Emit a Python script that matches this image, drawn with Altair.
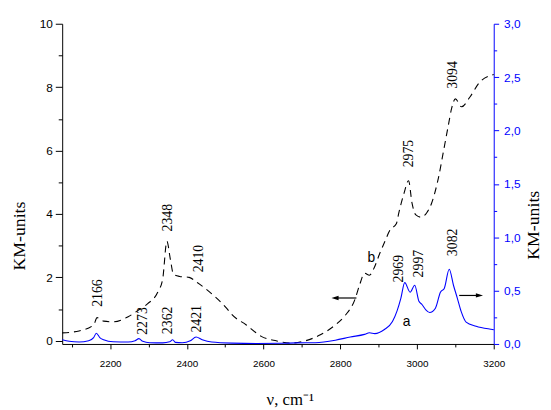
import altair as alt
import pandas as pd

# ---- data ----
# curve b (dashed, left axis)
b_nu = [2075, 2119, 2157, 2166, 2183, 2208, 2247, 2273, 2298, 2324,
        2337, 2348, 2357, 2365, 2381, 2406, 2427, 2465, 2504, 2517,
        2555, 2594, 2633, 2671, 2709, 2748, 2787, 2812, 2838, 2851,
        2863, 2876, 2889, 2902, 2915, 2930, 2946, 2953, 2966, 2978,
        2987, 2997, 3010, 3025, 3038, 3056, 3069, 3082, 3090, 3100,
        3116, 3138, 3163, 3192, 3200]
b_km = [0.25, 0.31, 0.5, 0.73, 0.62, 0.6, 0.76, 0.96, 1.17, 1.53,
        1.95, 3.14, 2.57, 2.1, 2.03, 2.0, 1.84, 1.48, 1.02, 0.83,
        0.5, 0.14, 0.0, -0.07, 0.0, 0.19, 0.5, 0.79, 1.3, 1.79,
        2.13, 2.07, 2.32, 2.73, 3.1, 3.5, 3.69, 4.06, 4.65, 5.05,
        4.34, 3.97, 3.9, 4.03, 4.34, 5.15, 5.98, 6.82, 7.32, 7.63,
        7.38, 7.69, 8.15, 8.37, 8.4]

# curve a (solid blue, right axis)
a_nu = [2075, 2093, 2119, 2144, 2157, 2164, 2173, 2183, 2208, 2247,
        2265, 2275, 2285, 2303, 2337, 2355, 2363, 2370, 2388, 2409,
        2424, 2440, 2465, 2517, 2581, 2645, 2684, 2735, 2787, 2826,
        2863, 2876, 2890, 2915, 2936, 2948, 2958, 2968, 2982, 2994,
        3005, 3013, 3023, 3033, 3048, 3061, 3071, 3084, 3095, 3105,
        3115, 3128, 3154, 3197, 3200]
a_km = [0.04, 0.025, 0.018, 0.03, 0.06, 0.1, 0.06, 0.04, 0.02, 0.018,
        0.03, 0.05, 0.025, 0.012, 0.01, 0.02, 0.04, 0.015, 0.012, 0.03,
        0.065, 0.04, 0.018, 0.008, 0.005, 0.006, 0.01, 0.012, 0.035, 0.065,
        0.09, 0.105, 0.097, 0.135, 0.21, 0.31, 0.43, 0.575, 0.485, 0.55,
        0.40, 0.37, 0.32, 0.295, 0.335, 0.485, 0.52, 0.70, 0.55, 0.43,
        0.305, 0.205, 0.167, 0.135, 0.133]

# peak annotations (position of the start of the rotated text, left-axis units)
peak_text = ['2166', '2348', '2410', '2273', '2362', '2421',
             '2969', '2997', '3082', '2975', '3094']
peak_nu = [2168, 2352, 2431, 2286, 2350, 2427, 2953, 3005, 3095, 2979, 3095]
peak_km = [1.07, 3.45, 2.16, 0.19, 0.21, 0.26, 1.84, 2.0, 2.67, 5.47, 7.95]

# curve letters
curve_names = ['a', 'b']
curve_name_nu = [2973, 2881]
curve_name_km = [0.58, 2.62]

# arrows pointing to the axis of each curve
arrow_dir = ['left', 'right']
arrow_tail_nu = [2842, 3110]
arrow_tip_nu = [2777, 3172]
arrow_km = [1.35, 1.43]

# axis ticks
x_major = [2200, 2400, 2600, 2800, 3000, 3200]
x_minor = [2100, 2300, 2500, 2700, 2900, 3100]
yl_major = [0, 2, 4, 6, 8, 10]
yl_minor = [1, 3, 5, 7, 9]
yr_major = [0.0, 0.5, 1.0, 1.5, 2.0, 2.5, 3.0]
yr_minor = [0.25, 0.75, 1.25, 1.75, 2.25, 2.75]

X_DOMAIN = [2075, 3200]
YL_DOMAIN = [-0.1, 10]
YR_DOMAIN = [0, 3]
BLUE = '#0000ff'
W, H = 438, 325

df_b = pd.DataFrame({'nu': b_nu, 'km': b_km})
df_a = pd.DataFrame({'nu': a_nu, 'km': a_km})
df_peaks = pd.DataFrame({'nu': peak_nu, 'km': peak_km, 'label': peak_text})
df_names = pd.DataFrame({'nu': curve_name_nu, 'km': curve_name_km, 'label': curve_names})
df_arrows = pd.DataFrame({'dir': arrow_dir, 'tail': arrow_tail_nu,
                          'tip': arrow_tip_nu, 'km': arrow_km})
ghost = pd.DataFrame({'nu': [2500], 'km': [1.0]})

HEAD = 52  # symbol area
head_off = (HEAD ** 0.5) / 2 / (W / (X_DOMAIN[1] - X_DOMAIN[0]))
df_arrows['head'] = [t + head_off if d == 'left' else t - head_off
                     for d, t in zip(arrow_dir, arrow_tip_nu)]

xs = alt.Scale(domain=X_DOMAIN, nice=False, zero=False)
yls = alt.Scale(domain=YL_DOMAIN, nice=False, zero=False)
yrs = alt.Scale(domain=YR_DOMAIN, nice=False, zero=False)

common = dict(grid=False, domainWidth=1, tickWidth=1)

x_axis_major = alt.Axis(orient='bottom', values=x_major, format='d', tickSize=5,
                        labelFont='Liberation Sans', labelFontSize=10, labelColor='black',
                        labelPadding=10, labelFlush=False, domainColor='black', tickColor='black',
                        title='ν, cm⁻¹', titleFont='Liberation Serif', titleFontSize=17,
                        titleFontWeight='normal', titleColor='black', titleX=231, titleY=61,
                        titleAlign='center', titleBaseline='alphabetic', **common)
x_axis_minor = alt.Axis(orient='bottom', values=x_minor, labels=False, domain=False,
                        tickSize=3, tickColor='black', title=None, **common)

yl_axis_major = alt.Axis(orient='left', values=yl_major, format='d', tickSize=7,
                         labelFont='Liberation Sans', labelFontSize=12, labelColor='black',
                         labelPadding=3, domainColor='black', tickColor='black',
                         title='KM-units', titleFont='Liberation Serif', titleFontSize=18,
                         titleFontWeight='normal', titleColor='black', titleAngle=270,
                         titleX=-38, titleY=215, titleAlign='center',
                         titleBaseline='alphabetic', **common)
yl_axis_minor = alt.Axis(orient='left', values=yl_minor, labels=False, domain=False,
                         tickSize=4, tickColor='black', title=None, **common)

yr_axis_major = alt.Axis(orient='right', values=yr_major, tickSize=5,
                         labelExpr="replace(format(datum.value, '.1f'), '.', ',')",
                         labelFont='Liberation Sans', labelFontSize=12, labelColor=BLUE,
                         labelPadding=5, domainColor=BLUE, tickColor=BLUE,
                         title='KM-units', titleFont='Liberation Serif', titleFontSize=18,
                         titleFontWeight='normal', titleColor='black', titleAngle=270,
                         titleX=45, titleY=204, titleAlign='center',
                         titleBaseline='alphabetic', **common)
yr_axis_minor = alt.Axis(orient='right', values=yr_minor, labels=False, domain=False,
                         tickSize=3, tickColor=BLUE, title=None, **common)

b_line = alt.Chart(df_b).mark_line(color='black', strokeWidth=1.1, strokeDash=[7, 5],
                                   interpolate='monotone').encode(
    x=alt.X('nu:Q', scale=xs, axis=x_axis_major),
    y=alt.Y('km:Q', scale=yls, axis=yl_axis_major))

ghost_l = alt.Chart(ghost).mark_point(opacity=0).encode(
    x=alt.X('nu:Q', scale=xs, axis=x_axis_minor),
    y=alt.Y('km:Q', scale=yls, axis=yl_axis_minor))

peaks = alt.Chart(df_peaks).mark_text(angle=270, align='left', baseline='middle',
                                      font='Liberation Serif', fontSize=14,
                                      color='black').encode(
    x=alt.X('nu:Q', scale=xs, axis=None),
    y=alt.Y('km:Q', scale=yls, axis=None),
    text='label:N')

names = alt.Chart(df_names).mark_text(align='center', baseline='middle',
                                      font='Liberation Sans', fontSize=14,
                                      color='black').encode(
    x=alt.X('nu:Q', scale=xs, axis=None),
    y=alt.Y('km:Q', scale=yls, axis=None),
    text='label:N')

arrow_lines = alt.Chart(df_arrows).mark_rule(color='black', strokeWidth=1.2).encode(
    x=alt.X('tail:Q', scale=xs, axis=None),
    x2='head:Q',
    y=alt.Y('km:Q', scale=yls, axis=None))

arrow_heads = alt.Chart(df_arrows).mark_point(filled=True, size=HEAD, color='black',
                                              opacity=1).encode(
    x=alt.X('head:Q', scale=xs, axis=None),
    y=alt.Y('km:Q', scale=yls, axis=None),
    shape=alt.Shape('dir:N', scale=alt.Scale(domain=['left', 'right'],
                                             range=['M-1,0L1,-0.6L1,0.6Z',
                                                    'M1,0L-1,-0.6L-1,0.6Z']),
                    legend=None))

a_line = alt.Chart(df_a).mark_line(color=BLUE, strokeWidth=1.1,
                                   interpolate='monotone').encode(
    x=alt.X('nu:Q', scale=xs, axis=None),
    y=alt.Y('km:Q', scale=yrs, axis=yr_axis_major))

ghost_r = alt.Chart(ghost).mark_point(opacity=0).encode(
    x=alt.X('nu:Q', scale=xs, axis=None),
    y=alt.Y('km:Q', scale=yrs, axis=yr_axis_minor))

chart = alt.layer(
    b_line, ghost_l, peaks, names, arrow_lines, arrow_heads, a_line, ghost_r
).resolve_scale(y='independent').resolve_axis(x='independent', y='independent').properties(
    width=W, height=H,
    padding={'left': 55, 'top': 13, 'right': 50, 'bottom': 62},
    autosize=alt.AutoSizeParams(type='none'),
    background='white'
).configure_view(stroke=None)

chart.save('out.html', embed_options={'renderer': 'svg', 'actions': False})
